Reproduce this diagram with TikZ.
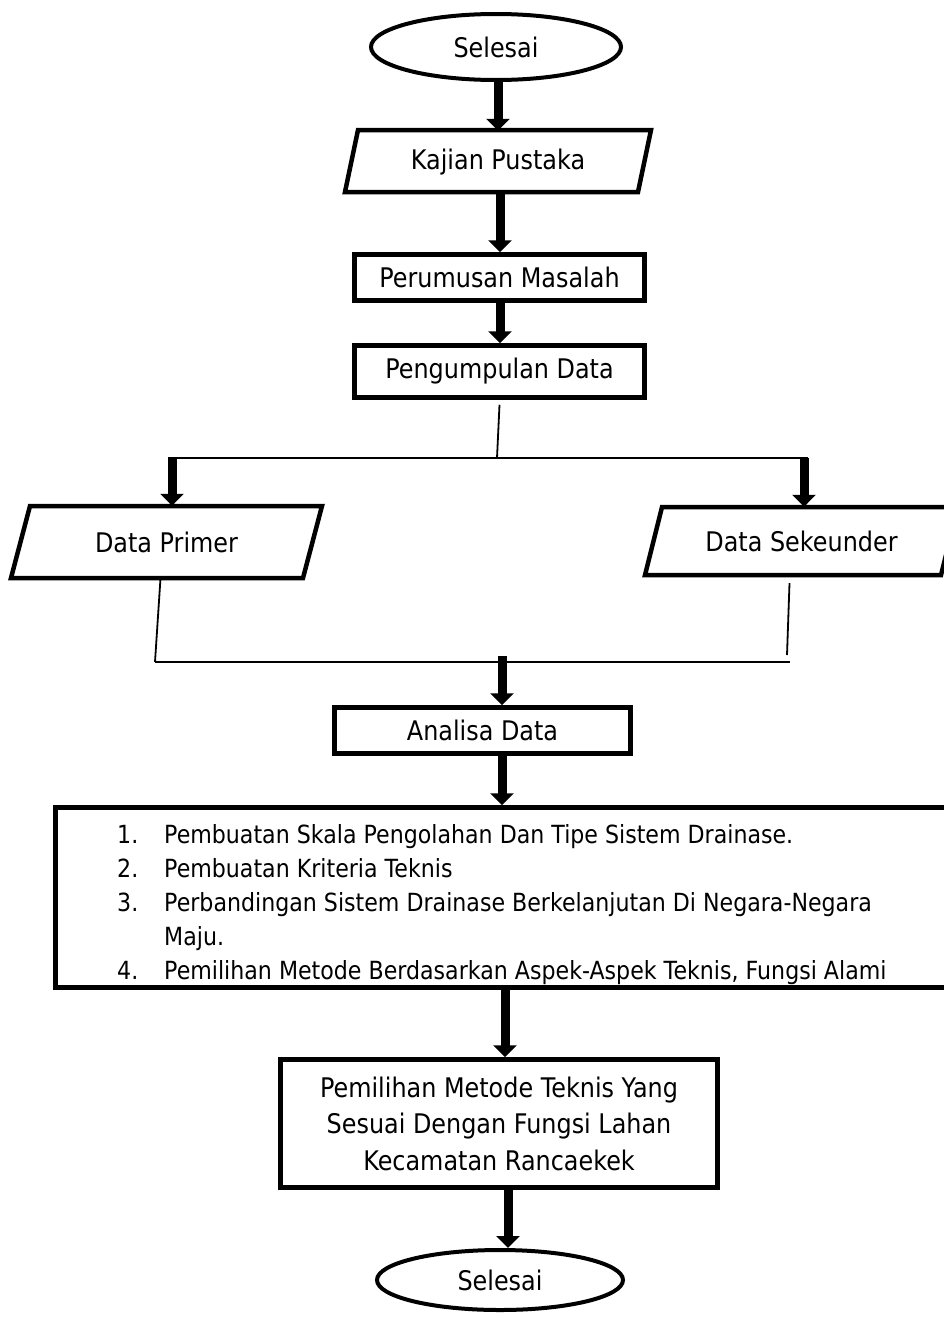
\documentclass[tikz,border=0pt]{standalone}
\usepackage{fontspec}
\setmainfont[FakeStretch=0.885]{DejaVu Sans}
\usetikzlibrary{arrows.meta,shapes.geometric,calc}
\begin{document}
\begin{tikzpicture}[x=1pt,y=-1pt,
  box/.style={draw, line width=4.5pt, rectangle, inner sep=0pt, font=\fontsize{27}{32}\selectfont},
  term/.style={draw, line width=4pt, ellipse, inner sep=0pt, font=\fontsize{27}{32}\selectfont},
  io/.style={inner sep=0pt, font=\fontsize{27}{32}\selectfont},
  para/.style={line width=4.5pt, line join=miter},
  thinline/.style={line width=1.8pt},
  flow/.style={line width=9pt, -{Triangle[width=23pt,length=12pt]}},
]
\clip (0,0) rectangle (944,1317);
\fill[white] (0,0) rectangle (944,1317);

% start
\node[term, minimum width=250pt, minimum height=66pt] (start) at (496,47) {Selesai};

% Kajian Pustaka
\draw[para] (358,130) -- (651,130) -- (638,192) -- (345,192) -- cycle;
\node[io, minimum width=306pt, minimum height=62pt] (kp) at (498,162) {Kajian Pustaka};
\coordinate (c1) at (498,100);
\coordinate (c2) at (500,220);
\draw[flow] (start.south -| c1) -- (kp.north -| c1);

% Perumusan Masalah
\node[box, minimum width=290pt, minimum height=46pt] (pm) at (499.5,277.5) {Perumusan Masalah};
\draw[flow] (kp.south -| c2) -- (pm.north -| c2);

% Pengumpulan Data
\node[box, minimum width=290pt, minimum height=52pt] (pd) at (499.5,371.5) {Pengumpulan Data};
\draw[flow] (pm.south -| c2) -- (pd.north -| c2);

% split
\coordinate (split) at (497,458);
\coordinate (bl) at (172,458);
\coordinate (br) at (804,458);
\draw[thinline] ([yshift=-5pt]pd.south) -- (split);
\draw[thinline] ([xshift=-4pt]bl) -- ([xshift=4pt]br);

% Data Primer
\draw[para] (30,506) -- (322,506) -- (303,578) -- (11,578) -- cycle;
\node[io, minimum width=292pt, minimum height=72pt] (dp) at (166.5,542) {Data Primer};
\draw[flow] (bl) -- (bl |- dp.north);

% Data Sekeunder
\draw[para] (662,507) -- (958,507) -- (941,575) -- (645,575) -- cycle;
\node[io, minimum width=296pt, minimum height=68pt] (ds) at (801.5,541) {Data Sekeunder};
\draw[flow] (br) -- (br |- ds.north);

% merge
\coordinate (ml) at (155,662);
\coordinate (mr) at (790,662);
\coordinate (mr2) at (787,655);
\draw[thinline] ([xshift=-6pt]dp.south) -- (ml);
\draw[thinline] ([xshift=-12pt,yshift=-8pt]ds.south) -- (mr2);
\draw[thinline] (ml) -- (mr);
\coordinate (merge) at (502,656);

% Analisa Data
\node[box, minimum width=296pt, minimum height=46pt] (ad) at (482.5,730.5) {Analisa Data};
\draw[flow] (merge) -- (merge |- ad.north);

% list box
\node[box, minimum width=910pt, minimum height=180pt] (lst) at (510.5,897.5) {};
\node[anchor=base west, inner sep=0pt, font=\fontsize{25}{34}\selectfont] (lsttext) at (117,843) {%
\begin{tabular}[t]{@{}p{47pt}@{}l@{}}
1. & Pembuatan Skala Pengolahan Dan Tipe Sistem Drainase.\\
2. & Pembuatan Kriteria Teknis\\
3. & Perbandingan Sistem Drainase Berkelanjutan Di Negara-Negara\\
   & Maju.\\
4. & Pemilihan Metode Berdasarkan Aspek-Aspek Teknis, Fungsi Alami
\end{tabular}};
\draw[flow] (merge |- ad.south) -- (merge |- lst.north);

% Pemilihan
\node[box, minimum width=437pt, minimum height=128pt, align=center, font=\fontsize{27}{36.5}\selectfont] (pl) at (499,1123.5) {Pemilihan Metode Teknis Yang\\Sesuai Dengan Fungsi Lahan\\Kecamatan Rancaekek};
\coordinate (c4) at (505,1000);
\draw[flow] (lst.south -| c4) -- (pl.north -| c4);

% end
\node[term, minimum width=246pt, minimum height=60pt] (end) at (500,1280) {Selesai};
\coordinate (c5) at (508,1200);
\draw[flow] (pl.south -| c5) -- (end.north -| c5);
\end{tikzpicture}
\end{document}
